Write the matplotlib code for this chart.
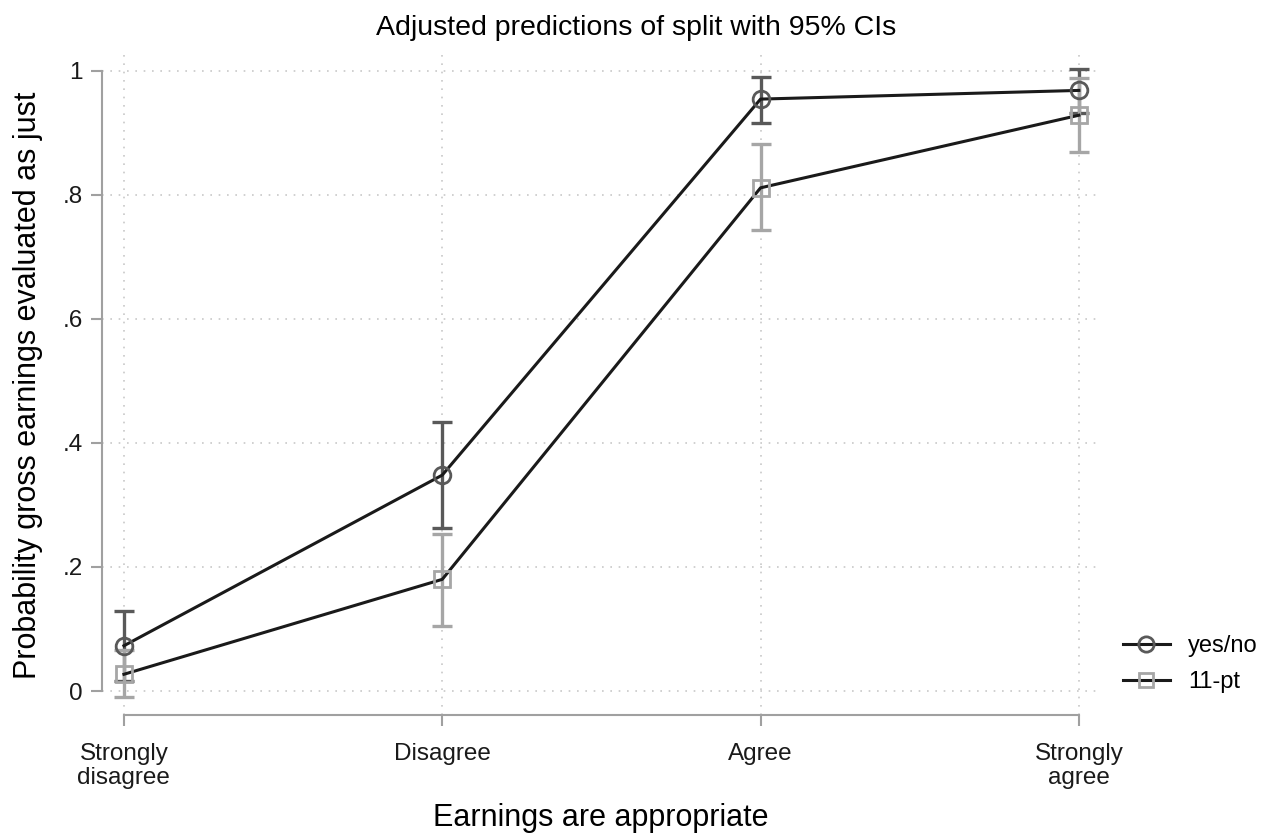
import numpy as np
import matplotlib.pyplot as plt
from matplotlib.lines import Line2D

categories = ['Strongly\ndisagree', 'Disagree', 'Agree', 'Strongly\nagree']
yesno = [0.073, 0.348, 0.954, 0.968]
yesno_lo = [0.016, 0.262, 0.916, 0.932]
yesno_hi = [0.129, 0.433, 0.990, 1.003]
pt11 = [0.027, 0.180, 0.811, 0.928]
pt11_lo = [-0.010, 0.105, 0.743, 0.868]
pt11_hi = [0.066, 0.253, 0.881, 0.988]
yticks = [0, 0.2, 0.4, 0.6, 0.8, 1.0]
yticklabels = ['0', '.2', '.4', '.6', '.8', '1']

plt.rcParams['font.family'] = ['Liberation Sans', 'DejaVu Sans']

fig = plt.figure(figsize=(12.73, 8.34), dpi=100)
ax = fig.add_axes([0.0801, 0.1427, 0.7839, 0.7913])
x = np.arange(1, len(categories) + 1)

dark = '#595959'
light = '#a6a6a6'

# CIs
ax.errorbar(x, yesno, yerr=[np.array(yesno) - np.array(yesno_lo), np.array(yesno_hi) - np.array(yesno)],
            fmt='none', ecolor=dark, elinewidth=2.4, capsize=7, capthick=2.4, zorder=2)
ax.errorbar(x, pt11, yerr=[np.array(pt11) - np.array(pt11_lo), np.array(pt11_hi) - np.array(pt11)],
            fmt='none', ecolor=light, elinewidth=2.4, capsize=7, capthick=2.4, zorder=2)

ax.plot(x, yesno, color='#1a1a1a', lw=2.2, zorder=3)
ax.plot(x, pt11, color='#1a1a1a', lw=2.2, zorder=3)
ax.plot(x, yesno, 'o', ms=12, mfc='none', mec=dark, mew=2, zorder=4)
ax.plot(x, pt11, 's', ms=11, mfc='none', mec=light, mew=2, zorder=4)

ax.set_xlim(0.931, 4.066)
ax.set_ylim(-0.0386, 1.025)
ax.set_xticks(x)
ax.set_xticklabels(categories, fontsize=17.5, linespacing=1.12)
ax.set_yticks(yticks)
ax.set_yticklabels(yticklabels, fontsize=17.5)

ax.grid(True, linestyle=(0, (1, 4)), color='#c8c8c8', lw=1.2)
ax.set_axisbelow(True)

for s in ['top', 'right']:
    ax.spines[s].set_visible(False)
ax.spines['left'].set_bounds(0, 1)
ax.spines['bottom'].set_bounds(1, 4)
ax.spines['left'].set_color('#a0a0a0')
ax.spines['bottom'].set_color('#a0a0a0')
ax.spines['left'].set_linewidth(1.5)
ax.spines['bottom'].set_linewidth(1.5)
ax.tick_params(axis='both', color='#a0a0a0', length=8, width=1.5, labelcolor='#1a1a1a')
ax.tick_params(axis='y', pad=6)
ax.tick_params(axis='x', pad=12)

ax.set_xlabel('Earnings are appropriate', fontsize=22, labelpad=10)
ax.set_ylabel('Probability gross earnings evaluated as just', fontsize=22, labelpad=14)
fig.text(0.5, 0.966, 'Adjusted predictions of split with 95% CIs', fontsize=20.5,
         ha='center', va='center')

handles = [Line2D([], [], color='#1a1a1a', lw=2.2, marker='o', ms=11, mfc='none', mec=dark, mew=2),
           Line2D([], [], color='#1a1a1a', lw=2.2, marker='s', ms=10, mfc='none', mec=light, mew=2)]
fig.legend(handles, ['yes/no', '11-pt'], loc='center left', bbox_to_anchor=(0.882, 0.204),
           frameon=False, fontsize=17, handlelength=2.0, handletextpad=0.76, labelspacing=0.6,
           borderpad=0, borderaxespad=0)

fig.savefig('out.png', dpi=100, facecolor='white')
